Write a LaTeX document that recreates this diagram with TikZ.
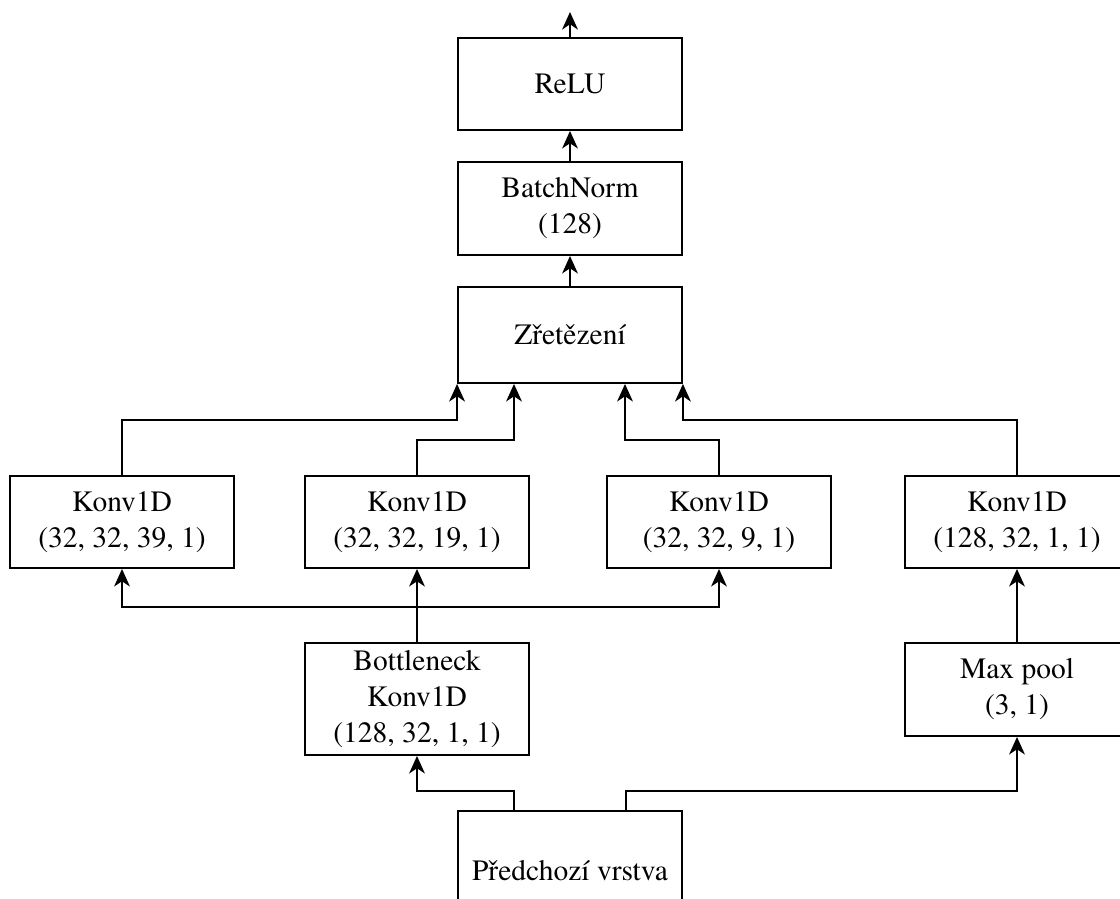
\documentclass[tikz,border=0pt]{standalone}
\usepackage{fontspec}
\setmainfont{TeX Gyre Termes}
\usetikzlibrary{arrows.meta,calc}
\begin{document}
\begin{tikzpicture}[x=0.02cm,y=-0.02cm,line width=1.1pt,
    block/.style={draw=black,fill=white,minimum width=4.48cm,align=center,font=\rmfamily\fontsize{16.8}{20.5}\selectfont},
    arr/.style={-{Stealth[length=10pt,width=9pt,inset=3pt]}},
    twoarr/.style={{Stealth[length=10pt,width=9pt,inset=3pt]}-{Stealth[length=10pt,width=9pt,inset=3pt]}}]
    \clip (0,0) rectangle (1120,899);
    \node[block,minimum height=1.84cm] (relu) at (570,84) {ReLU};
    \node[block,minimum height=1.86cm] (bn) at (570,208.5) {BatchNorm\\(128)};
    \node[block,minimum height=1.92cm] (concat) at (570,335) {Zřetězení};
    \node[block,minimum height=1.84cm] (k1) at (122,522) {Konv1D\\(32, 32, 39, 1)};
    \node[block,minimum height=1.84cm] (k2) at (417,522) {Konv1D\\(32, 32, 19, 1)};
    \node[block,minimum height=1.84cm] (k3) at (719,522) {Konv1D\\(32, 32, 9, 1)};
    \node[block,minimum height=1.84cm] (k4) at (1017,522) {Konv1D\\(128, 32, 1, 1)};
    \node[block,minimum height=2.24cm] (bott) at (417,699) {Bottleneck\\Konv1D\\(128, 32, 1, 1)};
    \node[block,minimum height=1.86cm] (pool) at (1017,689.5) {Max pool\\(3, 1)};
    \node[block,minimum height=2.4cm] (prev) at (570,871) {Předchozí vrstva};
    \coordinate (out) at (570,12);
    % vertical chain
    \draw[arr] (relu) -- (out);
    \draw[arr] (bn) -- (relu);
    \draw[arr] (concat) -- (bn);
    % into concatenation
    \draw[arr] (k1.north) -- ++(0,-55) -| (concat.south west);
    \draw[arr] (k2.north) -- ++(0,-35) -| ($(concat.south)+(-56,0)$);
    \draw[arr] (k3.north) -- ++(0,-35) -| ($(concat.south)+(55,0)$);
    \draw[arr] (k4.north) -- ++(0,-55) -| (concat.south east);
    % bottleneck branch
    \draw[arr] (bott) -- (k2);
    \draw[twoarr] (k1.south) -- ++(0,38) -| (k3.south);
    \draw[arr] (pool) -- (k4);
    % from previous layer
    \draw[arr] ($(prev.north)+(-56,0)$) -- ++(0,-19) -| (bott.south);
    \draw[arr] ($(prev.north)+(56,0)$) -- ++(0,-19) -| (pool.south);
\end{tikzpicture}
\end{document}
